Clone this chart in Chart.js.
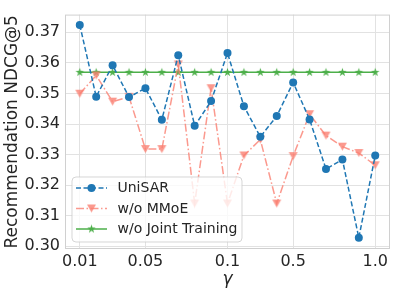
<!DOCTYPE html>
<html><head><meta charset="utf-8">
<script src="https://cdn.jsdelivr.net/npm/chart.js@4/dist/chart.umd.min.js"></script>
<style>html,body{margin:0;padding:0;background:#fff}#wrap{width:395px;height:294px;position:relative}</style>
</head><body><div id="wrap"><canvas id="c" width="395" height="294"></canvas></div>
<script>
const gammaLabels = ['0.01','0.02','0.03','0.04','0.05','0.06','0.07','0.08','0.09','0.1','0.2','0.3','0.4','0.5','0.6','0.7','0.8','0.9','1.0'];
const xTickLabels = ['0.01','0.05','0.1','0.5','1.0'];
const yTickValues = [0.30,0.31,0.32,0.33,0.34,0.35,0.36,0.37];
const seriesNames = ['UniSAR','w/o MMoE','w/o Joint Training'];
const unisar = [0.3724,0.3489,0.3592,0.3488,0.3517,0.3414,0.3625,0.3394,0.3475,0.3632,0.3458,0.3358,0.3426,0.3536,0.3415,0.3253,0.3284,0.3028,0.3297];
const woMMoE = [0.3499,0.3559,0.3473,0.3489,0.3318,0.3318,0.3595,0.3140,0.3517,0.3140,0.3297,0.3349,0.3140,0.3295,0.3432,0.3362,0.3326,0.3305,0.3265];
const woJoint = [0.3569,0.3569,0.3569,0.3569,0.3569,0.3569,0.3569,0.3569,0.3569,0.3569,0.3569,0.3569,0.3569,0.3569,0.3569,0.3569,0.3569,0.3569,0.3569];

const BLUE = '#1f77b4';
const SALMON = 'rgba(250,128,114,0.8)';
const GREEN = '#4daf4a';
const FONT = "'DejaVu Sans', sans-serif";
const TXT = '#262626';

function triCanvas(color, w, h) {
  const c = document.createElement('canvas');
  c.width = w + 2; c.height = h + 2;
  const g = c.getContext('2d');
  g.fillStyle = color;
  g.beginPath(); g.moveTo(1, 1); g.lineTo(w + 1, 1); g.lineTo(w / 2 + 1, h + 1); g.closePath(); g.fill();
  return c;
}
function starCanvas(color, R) {
  const s = Math.ceil(2 * R) + 2;
  const c = document.createElement('canvas');
  c.width = s; c.height = s;
  const g = c.getContext('2d');
  g.fillStyle = color;
  const cx = s / 2, cy = s / 2, r = R * 0.382;
  g.beginPath();
  for (let i = 0; i < 10; i++) {
    const a = -Math.PI / 2 + i * Math.PI / 5;
    const rr = i % 2 === 0 ? R : r;
    const px = cx + rr * Math.cos(a), py = cy + rr * Math.sin(a);
    i === 0 ? g.moveTo(px, py) : g.lineTo(px, py);
  }
  g.closePath(); g.fill();
  return c;
}
const triImg = triCanvas(SALMON, 9, 8);
const starImg = starCanvas(GREEN, 4.5);

const toPts = arr => arr.map((v, i) => ({x: i, y: v}));
const styles = [
  {color: BLUE, dash: [5, 2.5], point: 'circle', radius: 4},
  {color: SALMON, dash: [8, 2.5, 1.5, 2.5], point: triImg, radius: 4},
  {color: GREEN, dash: [], point: starImg, radius: 4}
];
const seriesData = [unisar, woMMoE, woJoint];

const datasets = seriesData.map((arr, k) => ({
  label: seriesNames[k],
  data: toPts(arr),
  borderColor: styles[k].color,
  backgroundColor: styles[k].color,
  borderWidth: 1.5,
  borderDash: styles[k].dash,
  pointStyle: styles[k].point,
  pointRadius: styles[k].radius,
  pointBorderWidth: 0,
  pointBackgroundColor: styles[k].color,
  tension: 0
}));

const framePlugin = {
  id: 'frame',
  afterDatasetsDraw(chart) {
    const {ctx, chartArea: a} = chart;
    ctx.save();
    ctx.strokeStyle = '#d0d0d0';
    ctx.lineWidth = 1;
    ctx.strokeRect(a.left + 0.5, a.top + 0.5, a.right - a.left - 1, a.bottom - a.top - 1);
    ctx.restore();
    // legend
    ctx.save();
    const bx = 72, by = 177, bw = 170, bh = 65, r = 4;
    ctx.beginPath();
    ctx.moveTo(bx + r, by); ctx.lineTo(bx + bw - r, by); ctx.quadraticCurveTo(bx + bw, by, bx + bw, by + r);
    ctx.lineTo(bx + bw, by + bh - r); ctx.quadraticCurveTo(bx + bw, by + bh, bx + bw - r, by + bh);
    ctx.lineTo(bx + r, by + bh); ctx.quadraticCurveTo(bx, by + bh, bx, by + bh - r);
    ctx.lineTo(bx, by + r); ctx.quadraticCurveTo(bx, by, bx + r, by);
    ctx.closePath();
    ctx.fillStyle = 'rgba(255,255,255,0.8)';
    ctx.fill();
    ctx.strokeStyle = 'rgba(204,204,204,0.8)';
    ctx.lineWidth = 1;
    ctx.stroke();
    const rows = [188, 208.5, 229];
    seriesNames.forEach((name, k) => {
      const y = rows[k];
      ctx.strokeStyle = styles[k].color;
      ctx.lineWidth = 1.5;
      ctx.setLineDash(styles[k].dash);
      ctx.beginPath(); ctx.moveTo(76, y); ctx.lineTo(107, y); ctx.stroke();
      ctx.setLineDash([]);
      const p = styles[k].point;
      if (p === 'circle') {
        ctx.fillStyle = styles[k].color;
        ctx.beginPath(); ctx.arc(91.5, y, 4, 0, Math.PI * 2); ctx.fill();
      } else {
        ctx.drawImage(p, 91.5 - p.width / 2, y - p.height / 2);
      }
      ctx.fillStyle = TXT;
      ctx.font = '14px ' + FONT;
      ctx.textBaseline = 'middle';
      ctx.textAlign = 'left';
      ctx.fillText(name, 117.5, y + 0.5);
    });
    ctx.restore();
  }
};

new Chart(document.getElementById('c'), {
  type: 'line',
  data: {datasets},
  options: {
    responsive: false,
    animation: false,
    devicePixelRatio: 1,
    layout: {padding: {left: 0, right: 5, top: 5, bottom: 0}},
    plugins: {legend: {display: false}, tooltip: {enabled: false}},
    scales: {
      x: {
        type: 'linear',
        min: -0.9, max: 18.9,
        afterFit: s => { s.height = 45; },
        afterBuildTicks: s => { s.ticks = xTickLabels.map(l => ({value: gammaLabels.indexOf(l)})); },
        ticks: {
          callback: v => gammaLabels[v],
          font: {family: FONT, size: 16}, color: TXT, padding: 3, maxRotation: 0, autoSkip: false
        },
        grid: {color: '#e2e2e2', lineWidth: 1, drawTicks: false},
        border: {display: false},
        title: {display: true, text: 'γ', font: {family: FONT, size: 17, style: 'italic'}, color: TXT, padding: {top: 0, bottom: 4}}
      },
      y: {
        type: 'linear',
        min: 0.29912, max: 0.37578,
        afterFit: s => { s.width = 65; },
        afterBuildTicks: s => { s.ticks = yTickValues.map(v => ({value: v})); },
        ticks: {
          callback: v => v.toFixed(2),
          font: {family: FONT, size: 16}, color: TXT, padding: 5
        },
        grid: {color: '#e2e2e2', lineWidth: 1, drawTicks: false},
        border: {display: false},
        title: {display: true, text: 'Recommendation NDCG@5', font: {family: FONT, size: 17}, color: TXT, padding: {top: 2, bottom: 0}}
      }
    }
  },
  plugins: [framePlugin]
});
</script>
</body></html>
